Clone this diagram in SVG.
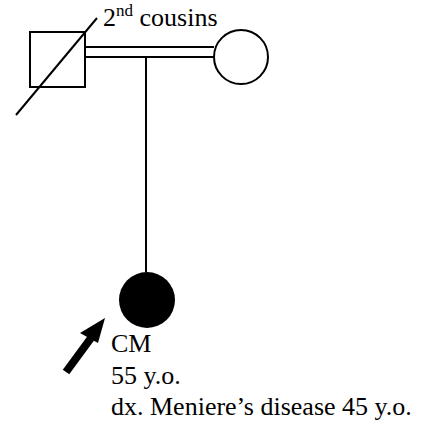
<svg xmlns="http://www.w3.org/2000/svg" width="430" height="421" viewBox="0 0 430 421">
<style>
.s{fill:none;stroke:#000;stroke-width:2}
.t{font-family:"Liberation Serif",serif;font-size:26px;fill:#000}
</style>
<rect width="430" height="421" fill="#fff"/>
<g id="connectors">
<line class="s" x1="85" y1="47" x2="214" y2="47"/>
<line class="s" x1="85" y1="57" x2="214" y2="57"/>
<line class="s" x1="146" y1="57" x2="146" y2="272"/>
</g>
<g id="father">
<rect class="s" x="30" y="32" width="55" height="55"/>
<line class="s" x1="16" y1="115" x2="97" y2="18"/>
</g>
<g id="mother">
<circle class="s" cx="241" cy="57" r="27"/>
</g>
<g id="label"><text class="t" x="103" y="26">2<tspan dy="-10" font-size="17">nd</tspan><tspan dy="10"> cousins</tspan></text></g>
<g id="proband">
<circle cx="147" cy="300" r="28" fill="#000"/>
<line x1="66" y1="372" x2="91" y2="338" stroke="#000" stroke-width="8"/>
<polygon points="105,318 80,333 98,343" fill="#000"/>
<text class="t" x="111" y="352">CM</text>
<text class="t" x="111" y="384">55 y.o.</text>
<text class="t" x="111" y="415">dx. Meniere’s disease 45 y.o.</text>
</g>
</svg>
